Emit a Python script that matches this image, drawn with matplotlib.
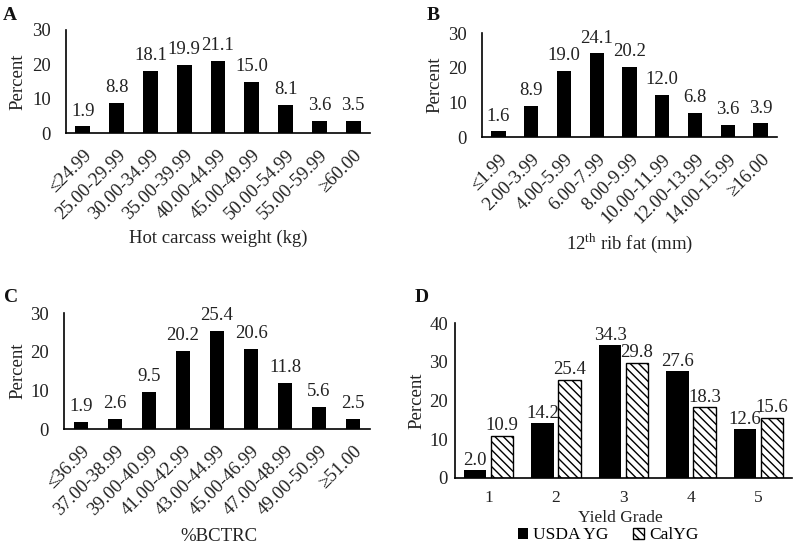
import matplotlib
matplotlib.use("Agg")
import matplotlib.pyplot as plt
import numpy as np

plt.rcParams['font.family'] = ['Liberation Serif', 'DejaVu Serif']
plt.rcParams['mathtext.fontset'] = 'custom'
plt.rcParams['mathtext.rm'] = 'Liberation Serif'
plt.rcParams['hatch.linewidth'] = 1.0

# Panel A
hcw_cats = ["≤24.99", "25.00-29.99", "30.00-34.99", "35.00-39.99", "40.00-44.99",
            "45.00-49.99", "50.00-54.99", "55.00-59.99", "≥60.00"]
hcw_vals = [1.9, 8.8, 18.1, 19.9, 21.1, 15.0, 8.1, 3.6, 3.5]
# Panel B
fat_cats = ["≤1.99", "2.00-3.99", "4.00-5.99", "6.00-7.99", "8.00-9.99",
            "10.00-11.99", "12.00-13.99", "14.00-15.99", "≥16.00"]
fat_vals = [1.6, 8.9, 19.0, 24.1, 20.2, 12.0, 6.8, 3.6, 3.9]
# Panel C
bctrc_cats = ["≤36.99", "37.00-38.99", "39.00-40.99", "41.00-42.99", "43.00-44.99",
              "45.00-46.99", "47.00-48.99", "49.00-50.99", "≥51.00"]
bctrc_vals = [1.9, 2.6, 9.5, 20.2, 25.4, 20.6, 11.8, 5.6, 2.5]
# Panel D
yg_cats = ["1", "2", "3", "4", "5"]
usda_yg = [2.0, 14.2, 34.3, 27.6, 12.6]
cal_yg = [10.9, 25.4, 29.8, 18.3, 15.6]

W, H = 795, 548
fig = plt.figure(figsize=(W / 100, H / 100), dpi=100)

def add_ax(l, r, t, b):
    return fig.add_axes([l / W, 1 - b / H, (r - l) / W, (b - t) / H])

FS = 13.5
FSD = 12.5
TC = '#222222'

def style(ax, ymax, ystep, ypad, ylab_x):
    for s in ['top', 'right']:
        ax.spines[s].set_visible(False)
    ax.spines['left'].set_linewidth(1.2)
    ax.spines['bottom'].set_linewidth(1.2)
    ax.set_ylim(0, ymax)
    ax.set_yticks(np.arange(0, ymax + 1, ystep))
    ax.tick_params(axis='both', length=0, labelsize=FS, colors=TC)
    ax.tick_params(axis='y', pad=ypad)
    yl = ax.set_ylabel("Percent", fontsize=FS, color=TC)
    ax.yaxis.set_label_coords(ylab_x, 0.5)
    yl.set_va('center')

def single(ax, cats, vals, xlabel, ylab_x, xlab_pos):
    x = np.arange(len(cats))
    bars = ax.bar(x, vals, width=0.44, color='black')
    ax.bar_label(bars, labels=[f"{v:.1f}" for v in vals], padding=5,
                 fontsize=FS, color=TC)
    ax.set_xlim(-0.5, len(cats) - 0.5)
    style(ax, 30, 10, 11, ylab_x)
    ax.set_xticks(x)
    ax.set_xticklabels(cats, rotation=45, ha='right', rotation_mode='anchor')
    ax.tick_params(axis='x', pad=10)
    xl = ax.set_xlabel(xlabel, fontsize=FS, color=TC)
    ax.xaxis.set_label_coords(*xlab_pos)
    xl.set_va('center')

axA = add_ax(66, 370, 30, 133)
single(axA, hcw_cats, hcw_vals, "Hot carcass weight (kg)", -0.158, (0.5, -1.02))
axB = add_ax(482, 777, 33, 137)
single(axB, fat_cats, fat_vals, r"12$^{\mathrm{th}}$ rib fat (mm)", -0.159, (0.5, -1.02))
axC = add_ax(64, 370, 313, 429)
single(axC, bctrc_cats, bctrc_vals, "%BCTRC", -0.150, (0.507, -0.93))

axD = add_ax(455, 792, 323, 478)
x = np.arange(len(yg_cats))
w = 0.33
b1 = axD.bar(x - 0.2, usda_yg, width=w, color='black', label='USDA YG')
b2 = axD.bar(x + 0.2, cal_yg, width=w, color='white', edgecolor='black',
             hatch='\\\\\\\\', linewidth=1.0, label='CalYG')
axD.bar_label(b1, labels=[f"{v:.1f}" for v in usda_yg], padding=1, fontsize=FS, color=TC)
axD.bar_label(b2, labels=[f"{v:.1f}" for v in cal_yg], padding=1, fontsize=FS, color=TC)
axD.set_xlim(-0.5, len(yg_cats) - 0.5)
style(axD, 40, 10, 5, -0.113)
axD.set_xticks(x)
axD.set_xticklabels(yg_cats)
axD.tick_params(axis='x', pad=9, labelsize=FSD)
xl = axD.set_xlabel("Yield Grade", fontsize=FSD, color=TC)
axD.xaxis.set_label_coords(0.49, -0.26)
xl.set_va('center')
axD.legend(loc='center', bbox_to_anchor=(0.454, -0.37), ncol=2, frameon=False,
           fontsize=FSD, handlelength=0.6, handleheight=0.6, handletextpad=0.3,
           columnspacing=1.4, borderaxespad=0, borderpad=0)

for lab, (px, py) in zip("ABCD", [(3, 15), (427, 15), (4, 297), (415, 297)]):
    fig.text(px / W, 1 - py / H, lab, fontsize=14, fontweight='bold',
             ha='left', va='center', color='#111111')

fig.savefig("out.png", dpi=100)
